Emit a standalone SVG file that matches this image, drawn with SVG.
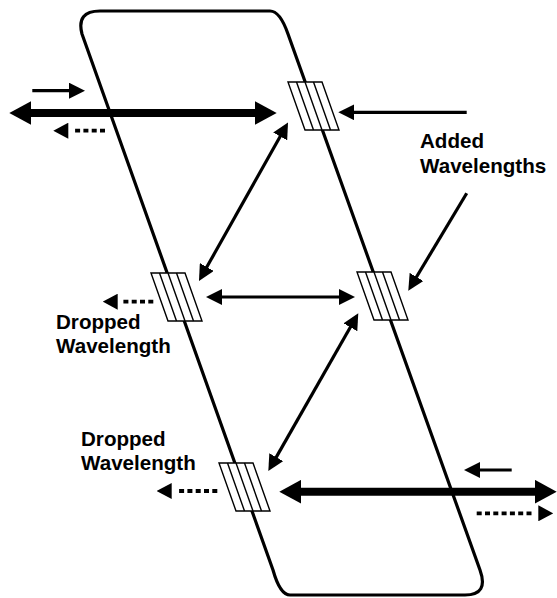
<svg xmlns="http://www.w3.org/2000/svg" width="557" height="598" viewBox="0 0 557 598">
<style>
.loop{fill:none;stroke:#000;stroke-width:3.2;stroke-linejoin:round}
.filt{fill:#fff;stroke:#000;stroke-width:1.4}
.thin{fill:none;stroke:#000;stroke-width:3.2}
.thick{fill:none;stroke:#000;stroke-width:8}
.dot{fill:none;stroke:#000;stroke-width:3.8;stroke-dasharray:5 3.3}
.lbl{font-family:"Liberation Sans",Arial,sans-serif;font-weight:bold;font-size:20.6px;fill:#000}
</style>
<defs>
<marker id="ah" markerUnits="userSpaceOnUse" viewBox="0 0 16 16" refX="8" refY="8" markerWidth="16" markerHeight="16" orient="auto-start-reverse"><path d="M0,0 L16,8 L0,16 z"/></marker>
<marker id="th" markerUnits="userSpaceOnUse" viewBox="0 0 22 24" refX="10" refY="12" markerWidth="22" markerHeight="24" orient="auto-start-reverse"><path d="M0,0 L22,12 L0,24 z"/></marker>
<marker id="dh" markerUnits="userSpaceOnUse" viewBox="0 0 20 16" refX="0" refY="8" markerWidth="20" markerHeight="16" orient="auto"><path d="M5,0 L20,8 L5,16 z"/></marker>
<g id="filter">
<polygon class="filt" points="0,0 34,0 51,48 17,48"/>
<line class="filt" x1="8.5" y1="0" x2="25.5" y2="48"/>
<line class="filt" x1="17" y1="0" x2="34" y2="48"/>
<line class="filt" x1="25.5" y1="0" x2="42.5" y2="48"/>
</g>
</defs>
<g id="ring">
<path class="loop" d="M100,11 H270 Q280,11 288,34 L480,570 Q489,595 465,595 H290 Q280,595 273,570 L82,34 Q76,11 100,11 Z"/>
</g>
<g id="filter-top"><use href="#filter" x="288" y="82"/></g>
<g id="filter-midleft"><use href="#filter" x="151" y="273"/></g>
<g id="filter-midright"><use href="#filter" x="357" y="272"/></g>
<g id="filter-bottom"><use href="#filter" x="219" y="463"/></g>
<g id="connectors">
<line class="thick" x1="21.3" y1="113" x2="264.7" y2="113" marker-start="url(#th)" marker-end="url(#th)"/>
<line class="thin" x1="32.3" y1="90.7" x2="77" y2="90.7" marker-end="url(#ah)"/>
<line class="dot" x1="105" y1="130.7" x2="73.3" y2="130.7" marker-end="url(#dh)"/>
<line class="thin" x1="466.7" y1="112.3" x2="346.3" y2="112.3" marker-end="url(#ah)"/>
<line class="thin" x1="466.7" y1="193.3" x2="412.4" y2="283.8" marker-end="url(#ah)"/>
<line class="thin" x1="284.1" y1="129.5" x2="202.9" y2="274" marker-start="url(#ah)" marker-end="url(#ah)"/>
<line class="thin" x1="214" y1="297" x2="347" y2="297" marker-start="url(#ah)" marker-end="url(#ah)"/>
<line class="thin" x1="354.3" y1="320.3" x2="272.3" y2="464.1" marker-start="url(#ah)" marker-end="url(#ah)"/>
<line class="dot" x1="153.3" y1="301.7" x2="122.7" y2="301.7" marker-end="url(#dh)"/>
<line class="dot" x1="217.3" y1="491" x2="176.7" y2="491" marker-end="url(#dh)"/>
<line class="thick" x1="291.3" y1="491.7" x2="544.7" y2="491.7" marker-start="url(#th)" marker-end="url(#th)"/>
<line class="thin" x1="511.7" y1="470" x2="472" y2="470" marker-end="url(#ah)"/>
<line class="dot" x1="476.7" y1="513.3" x2="533.3" y2="513.3" marker-end="url(#dh)"/>
</g>
<g id="labels">
<text class="lbl" x="420" y="148">Added</text>
<text class="lbl" x="420" y="172.5">Wavelengths</text>
<text class="lbl" x="56" y="329">Dropped</text>
<text class="lbl" x="56" y="352.7">Wavelength</text>
<text class="lbl" x="81" y="446">Dropped</text>
<text class="lbl" x="81" y="470">Wavelength</text>
</g>
</svg>
